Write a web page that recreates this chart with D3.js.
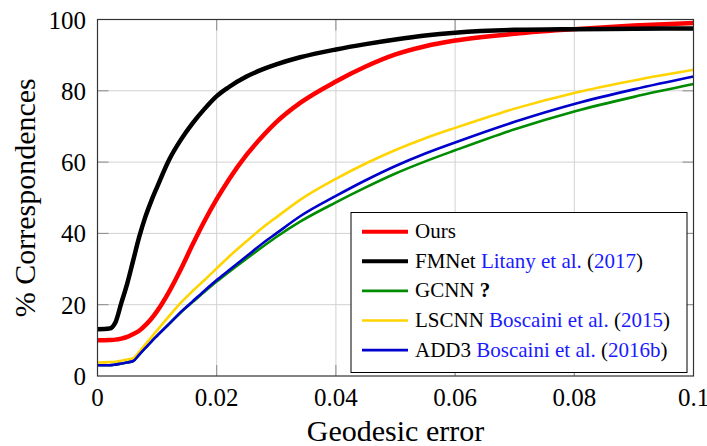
<!DOCTYPE html>
<html>
<head>
<meta charset="utf-8">
<script src="https://cdn.jsdelivr.net/npm/d3@7"></script>
<style>
  html, body { margin: 0; padding: 0; background: #fff; }
  svg { display: block; }
</style>
</head>
<body>
<svg id="chart" width="707" height="446"></svg>
<script>
// ---------- data ----------
const errors = [0, 0.002, 0.003, 0.004, 0.005, 0.006, 0.007, 0.008, 0.009, 0.010, 0.012, 0.014, 0.016, 0.018, 0.020, 0.022, 0.025, 0.028, 0.030, 0.034, 0.040, 0.045, 0.050, 0.055, 0.060, 0.070, 0.080, 0.090, 0.100];

const ours   = [10.0, 10.1, 10.2, 10.5, 11.0, 11.8, 12.7, 14.2, 16.0, 18.2, 23.6, 30.0, 37.0, 43.6, 49.6, 55.0, 62.0, 67.8, 71.2, 76.6, 82.6, 86.8, 90.2, 92.5, 94.1, 96.0, 97.3, 98.3, 99.0];
const fmnet  = [13.1, 13.3, 15.0, 20.5, 26.0, 32.5, 39.0, 44.5, 49.0, 53.0, 60.6, 66.3, 71.0, 75.0, 78.5, 81.0, 84.0, 86.2, 87.4, 89.4, 91.6, 93.1, 94.4, 95.5, 96.3, 97.1, 97.3, 97.4, 97.5];
const gcnn   = [3.0, 3.0, 3.2, 3.5, 3.8, 4.2, 6.0, 7.8, 9.6, 11.3, 14.6, 17.9, 20.8, 23.7, 26.5, 29.1, 32.9, 36.6, 39.0, 43.3, 48.7, 52.9, 56.8, 60.2, 63.3, 69.2, 74.2, 78.3, 81.9];
const lscnn  = [3.8, 3.9, 4.0, 4.3, 4.6, 5.0, 6.8, 8.8, 10.8, 12.8, 16.8, 20.6, 23.9, 27.0, 30.2, 33.4, 37.8, 42.0, 44.5, 49.4, 55.3, 59.6, 63.4, 66.7, 69.6, 75.0, 79.4, 82.9, 85.9];
const add3   = [3.0, 3.0, 3.2, 3.5, 3.8, 4.2, 6.0, 7.8, 9.6, 11.3, 14.6, 18.0, 21.0, 24.0, 26.9, 29.6, 33.6, 37.6, 40.0, 44.8, 50.5, 54.9, 58.9, 62.4, 65.5, 71.3, 76.3, 80.4, 84.0];

const seriesNames = ["Ours", "FMNet", "GCNN", "LSCNN", "ADD3"];
const seriesCites = ["", "Litany et al.", "", "Boscaini et al.", "Boscaini et al."];
const seriesYears = ["", "2017", "", "2015", "2016b"];
const seriesValues = [ours, fmnet, gcnn, lscnn, add3];
const seriesColors = ["#ff0000", "#000000", "#008c00", "#ffd400", "#0000cc"];
const seriesWidths = [4.5, 4.5, 2.6, 2.6, 2.6];

const xTicks = [0, 0.02, 0.04, 0.06, 0.08, 0.1];
const xTickLabels = ["0", "0.02", "0.04", "0.06", "0.08", "0.1"];
const yTicks = [0, 20, 40, 60, 80, 100];
const yTickLabels = ["0", "20", "40", "60", "80", "100"];

const xTitle = "Geodesic error";
const yTitle = "% Correspondences";

// ---------- layout ----------
const FONT = "'Liberation Serif', 'Times New Roman', Times, 'DejaVu Serif', serif";
const svg = d3.select("#chart").attr("font-family", FONT);
const L = 97.5, R = 693.5, T = 19.5, B = 376;
const x = d3.scaleLinear().domain([0, 0.1]).range([L, R]);
const y = d3.scaleLinear().domain([0, 100]).range([B, T]);

svg.append("rect").attr("width", 707).attr("height", 446).attr("fill", "#fff");

// grid
const grid = svg.append("g");
grid.selectAll("line.gx").data(xTicks.slice(1, -1)).enter().append("line")
  .attr("x1", d => x(d)).attr("x2", d => x(d)).attr("y1", T).attr("y2", B)
  .attr("stroke", "#d2d2d2").attr("stroke-width", 1);
grid.selectAll("line.gy").data(yTicks.slice(1, -1)).enter().append("line")
  .attr("x1", L).attr("x2", R).attr("y1", d => y(d)).attr("y2", d => y(d))
  .attr("stroke", "#d2d2d2").attr("stroke-width", 1);

// inner ticks
const tl = 11;
const ticks = svg.append("g").attr("stroke", "#8a8a8a").attr("stroke-width", 1);
xTicks.slice(1, -1).forEach(d => {
  ticks.append("line").attr("x1", x(d)).attr("x2", x(d)).attr("y1", B).attr("y2", B - tl);
  ticks.append("line").attr("x1", x(d)).attr("x2", x(d)).attr("y1", T).attr("y2", T + tl);
});
yTicks.slice(1, -1).forEach(d => {
  ticks.append("line").attr("x1", L).attr("x2", L + tl).attr("y1", y(d)).attr("y2", y(d));
  ticks.append("line").attr("x1", R).attr("x2", R - tl).attr("y1", y(d)).attr("y2", y(d));
});

// clip
svg.append("clipPath").attr("id", "plotclip").append("rect")
  .attr("x", L).attr("y", T - 3).attr("width", R - L).attr("height", B - T + 3);

// lines
const line = d3.line().x((d, i) => x(errors[i])).y(d => y(d)).curve(d3.curveMonotoneX);
const lines = svg.append("g").attr("clip-path", "url(#plotclip)");
seriesValues.forEach((vals, k) => {
  lines.append("path").attr("d", line(vals))
    .attr("fill", "none").attr("stroke", seriesColors[k])
    .attr("stroke-width", seriesWidths[k])
    .attr("stroke-linejoin", "round").attr("stroke-linecap", "butt");
});

// frame
svg.append("rect").attr("x", L).attr("y", T).attr("width", R - L).attr("height", B - T)
  .attr("fill", "none").attr("stroke", "#333").attr("stroke-width", 1.2);

// tick labels
svg.append("g").selectAll("text").data(xTicks).enter().append("text")
  .attr("x", d => x(d)).attr("y", 406).attr("text-anchor", "middle")
  .attr("font-size", 25).attr("fill", "#000")
  .text((d, i) => xTickLabels[i]);
svg.append("g").selectAll("text").data(yTicks).enter().append("text")
  .attr("x", 86).attr("y", d => y(d) + 9).attr("text-anchor", "end")
  .attr("font-size", 25).attr("fill", "#000")
  .text((d, i) => yTickLabels[i]);

// axis titles
svg.append("text").attr("x", (L + R) / 2).attr("y", 441).attr("text-anchor", "middle")
  .attr("font-size", 30).attr("fill", "#000").text(xTitle);
svg.append("text").attr("transform", `translate(35,${(T + B) / 2}) rotate(-90)`)
  .attr("text-anchor", "middle").attr("font-size", 30).attr("fill", "#000").text(yTitle);

// legend
const lg = svg.append("g");
lg.append("rect").attr("x", 351).attr("y", 212.5).attr("width", 336).attr("height", 160)
  .attr("fill", "#fff").attr("stroke", "#000").attr("stroke-width", 1);
const rowY0 = 231.7, rowDy = 29.6;
const citeBlue = "#1a1aff";
seriesNames.forEach((name, k) => {
  const cy = rowY0 + k * rowDy;
  lg.append("line").attr("x1", 362).attr("x2", 408).attr("y1", cy).attr("y2", cy)
    .attr("stroke", seriesColors[k]).attr("stroke-width", seriesWidths[k] === 4.5 ? 4 : 2.6);
  const t = lg.append("text").attr("x", 415).attr("y", cy + 6.5).attr("font-size", 21).attr("fill", "#000");
  t.append("tspan").text(name);
  if (name === "GCNN") {
    t.append("tspan").attr("font-weight", "bold").text(" ?");
  }
  if (seriesCites[k]) {
    t.append("tspan").attr("fill", citeBlue).text(" " + seriesCites[k]);
    t.append("tspan").text(" (");
    t.append("tspan").attr("fill", citeBlue).text(seriesYears[k]);
    t.append("tspan").text(")");
  }
});
</script>
</body>
</html>
